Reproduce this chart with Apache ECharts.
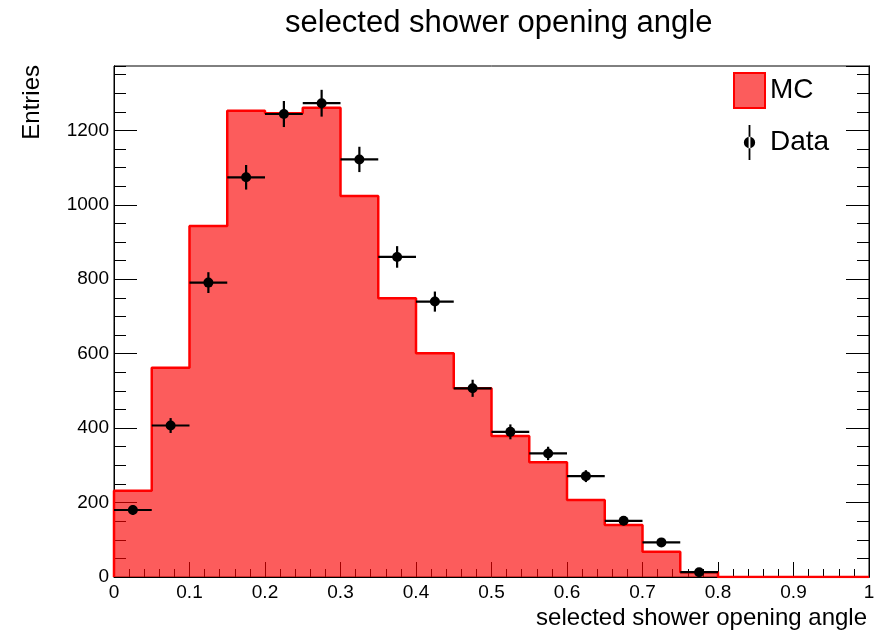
<!DOCTYPE html>
<html><head><meta charset="utf-8">
<script src="https://cdn.jsdelivr.net/npm/echarts@6/dist/echarts.min.js"></script>
<style>html,body{margin:0;padding:0;background:#fff}#c{width:877px;height:633px}</style>
</head><body><div id="c"></div>
<script>
// ---- data ----
const binEdges = [0,0.05,0.1,0.15,0.2,0.25,0.3,0.35,0.4,0.45,0.5,0.55,0.6,0.65,0.7,0.75,0.8,0.85,0.9,0.95,1.0];
const mcValues = [232,562,943,1253,1246,1261,1024,749,601,507,379,308,207,140,68,13,0,0,0,0];
const dataValues = [180,407,791,1074,1244,1273,1122,860,740,507,390,332,271,151,93,13];
const dataErrors = [13,20,28,33,35,36,34,29,27,23,20,18,16,12,10,4];
const yMax = 1373;
const titleText = 'selected shower opening angle';
const xTitle = 'selected shower opening angle';
const yTitle = 'Entries';

const mcFill = 'rgba(250,0,0,0.64)';

// MC step outline points
const mcPoints = [[binEdges[0], 0]];
mcValues.forEach((v, i) => mcPoints.push([binEdges[i], v]));
mcPoints.push([binEdges[binEdges.length - 1], 0]);

// data points: [center, value, error, halfWidth]
const dataPoints = dataValues.map((v, i) => [
  (binEdges[i] + binEdges[i + 1]) / 2, v, dataErrors[i], (binEdges[i + 1] - binEdges[i]) / 2
]);

const FONT = 'Liberation Sans, Arial, Helvetica, sans-serif';
const chart = echarts.init(document.getElementById('c'), null, {renderer: 'canvas'});

function yAx(pos, interval, len, labels, extra) {
  return Object.assign({
    type: 'value', min: 0, max: yMax, interval: interval, position: pos,
    axisLine: {show: true, lineStyle: {color: '#000', width: 1}},
    axisTick: {show: true, inside: true, length: len, lineStyle: {color: '#000', width: 1}},
    splitLine: {show: false},
    axisLabel: labels ? {show: true, color: '#000', fontSize: 19, fontFamily: FONT, margin: 5, showMaxLabel: false,
                         formatter: v => String(v)} : {show: false}
  }, extra || {});
}

chart.setOption({
  animation: false,
  backgroundColor: '#fff',
  title: {
    text: titleText, left: 280, top: 3,
    textStyle: {fontSize: 31, fontWeight: 'normal', color: '#000', fontFamily: FONT}
  },
  grid: {left: 114, right: 8, top: 66, bottom: 56, show: true, borderColor: '#000', borderWidth: 1,
         backgroundColor: 'transparent', outerBoundsMode: 'none'},
  legend: {
    orient: 'vertical', left: 733, top: 72, padding: 0, itemWidth: 31, itemHeight: 35, itemGap: 16,
    textStyle: {fontSize: 28, color: '#000', fontFamily: FONT},
    data: [
      {name: 'MC', icon: 'rect', itemStyle: {color: mcFill, borderColor: '#ff0000', borderWidth: 2}},
      {name: 'Data', icon: 'path://M4.2,0 L5.8,0 L5.8,31 L4.2,31 Z M0,15.5 A5,5 0 1 0 10,15.5 A5,5 0 1 0 0,15.5 Z',
       itemStyle: {color: '#000'}}
    ]
  },
  xAxis: {
    type: 'value', min: 0, max: 1, interval: 0.1,
    axisLine: {show: true, lineStyle: {color: '#000', width: 1}},
    axisTick: {show: true, inside: true, length: 15, lineStyle: {color: '#000'}},
    minorTick: {show: true, splitNumber: 5, length: 8, lineStyle: {color: '#000'}},
    splitLine: {show: false}, minorSplitLine: {show: false},
    axisLabel: {color: '#000', fontSize: 19, fontFamily: FONT, margin: 6,
                formatter: v => String(+v.toFixed(2))},
    name: xTitle, nameLocation: 'end', nameGap: -2, nameMoveOverlap: false,
    nameTextStyle: {align: 'right', verticalAlign: 'top', padding: [29, 0, 0, 0], fontSize: 24, color: '#000', fontFamily: FONT}
  },
  yAxis: [
    yAx('left', 200, 23, true, {
      name: yTitle, nameLocation: 'end', nameGap: 1, nameRotate: 90, nameMoveOverlap: false,
      nameTextStyle: {align: 'right', verticalAlign: 'bottom', padding: [0, 0, 70, 0], fontSize: 24, color: '#000', fontFamily: FONT}
    }),
    yAx('left', 50, 12, false),
    yAx('right', 200, 23, false),
    yAx('right', 50, 12, false)
  ],
  series: [
    {
      name: 'MC', type: 'line', step: 'end', data: mcPoints, symbol: 'none',
      lineStyle: {color: '#ff0000', width: 2.5},
      itemStyle: {color: '#ff0000'},
      areaStyle: {color: mcFill, opacity: 1},
      z: 2
    },
    {
      name: 'Data', type: 'custom', data: dataPoints, itemStyle: {color: '#000'}, z: 3,
      encode: {x: 0, y: 1},
      renderItem: function (params, api) {
        const x = api.value(0), y = api.value(1), e = api.value(2), hw = api.value(3);
        const c = api.coord([x, y]);
        const l = api.coord([x - hw, y]), r = api.coord([x + hw, y]);
        const t = api.coord([x, y + e]), b = api.coord([x, y - e]);
        return {type: 'group', children: [
          {type: 'line', shape: {x1: l[0], y1: l[1], x2: r[0], y2: r[1]}, style: {stroke: '#000', lineWidth: 2.2}},
          {type: 'line', shape: {x1: t[0], y1: t[1], x2: b[0], y2: b[1]}, style: {stroke: '#000', lineWidth: 2.2}},
          {type: 'circle', shape: {cx: c[0], cy: c[1], r: 5}, style: {fill: '#000'}}
        ]};
      }
    }
  ]
});
</script></body></html>
